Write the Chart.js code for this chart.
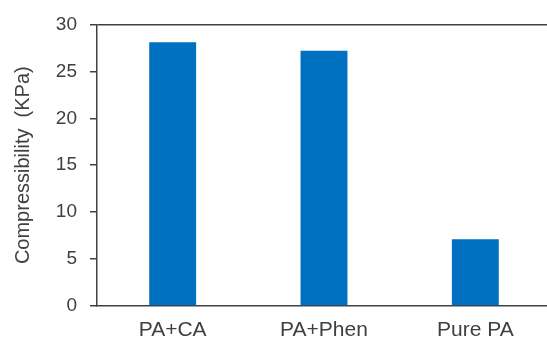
<!DOCTYPE html>
<html>
<head>
<meta charset="utf-8">
<script src="https://cdn.jsdelivr.net/npm/chart.js@4/dist/chart.umd.min.js"></script>
<style>
  html, body { margin: 0; padding: 0; background: #fff; overflow: hidden; }
  #wrap { width: 551px; height: 342px; position: relative; }
</style>
</head>
<body>
<div id="wrap"><canvas id="ch"></canvas></div>
<script>
// bar chart - compressibility per sample
const categories = ['PA+CA', 'PA+Phen', 'Pure PA'];
const compressibility = [28.1, 27.2, 7.1];
const yTicks = [0, 5, 10, 15, 20, 25, 30];

const axisColor = '#404040';
const textColor = '#404040';
const fam = 'Liberation Sans, Arial, sans-serif';

new Chart(document.getElementById('ch').getContext('2d'), {
    type: 'bar',
    data: {
        labels: categories,
        datasets: [{
            data: compressibility,
            backgroundColor: '#0070C0',
            borderWidth: 0,
            categoryPercentage: 1.0,
            barPercentage: 0.31
        }]
    },
    options: {
        responsive: true,
        maintainAspectRatio: false,
        animation: false,
        layout: { padding: { top: 24, right: 0, left: 0, bottom: 0 } },
        plugins: { legend: { display: false }, tooltip: { enabled: false } },
        scales: {
            x: {
                grid: { display: false, drawTicks: false },
                border: { display: true, color: axisColor, width: 1.5 },
                ticks: { color: textColor, font: { family: fam, size: 21 }, padding: 12 },
                afterFit: s => { s.height = 36; }
            },
            y: {
                min: 0,
                max: 30,
                afterBuildTicks: s => { s.ticks = yTicks.map(v => ({ value: v })); },
                grid: {
                    color: c => c.tick && c.tick.value === 30 ? axisColor : 'rgba(0,0,0,0)',
                    lineWidth: 1.5,
                    tickColor: axisColor,
                    tickLength: 7,
                    drawTicks: true
                },
                border: { display: true, color: axisColor, width: 1.5 },
                ticks: { color: textColor, font: { family: fam, size: 19 }, padding: 13 },
                title: {
                    display: true,
                    text: 'Compressibility  (KPa)',
                    color: textColor,
                    font: { family: fam, size: 20 },
                    padding: { top: 11, bottom: 0 }
                },
                afterFit: s => { s.width = 97; }
            }
        }
    }
});
</script>
</body>
</html>
